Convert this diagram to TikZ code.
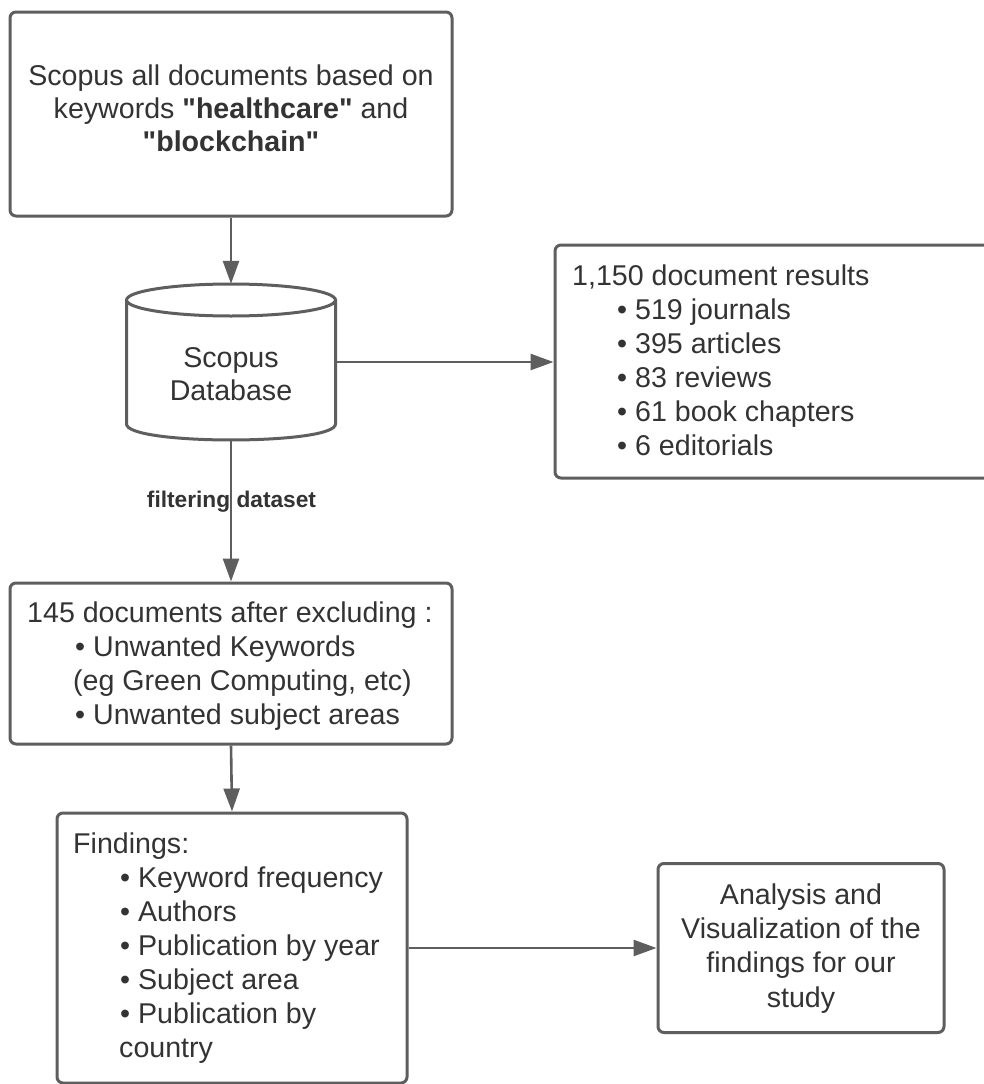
\documentclass[tikz,border=0pt]{standalone}
\usepackage{fontspec}
\setmainfont{Liberation Sans}
\usetikzlibrary{arrows.meta}
\definecolor{linec}{HTML}{5E5E5E}
\definecolor{textc}{HTML}{333333}
\begin{document}
\begin{tikzpicture}[x=1pt,y=-1pt,
  boxs/.style={draw=linec, line width=3pt, rounded corners=6pt, inner sep=0pt, fill=white},
  conn/.style={draw=linec, line width=2.6pt, -{Triangle[length=23pt,width=16pt]}},
  plainline/.style={draw=linec, line width=3pt},
  txt/.style={text=textc, inner sep=0pt, font=\fontsize{28.6pt}{34pt}\selectfont},
  lbl/.style={text=textc, inner sep=0pt, font=\bfseries\fontsize{22.7pt}{27pt}\selectfont}]
\useasboundingbox[fill=white] (0,0) rectangle (983,1084);

% boxes
\node[boxs, minimum width=442pt, minimum height=204pt] (b1) at (231,114) {};
\node[boxs, minimum width=436pt, minimum height=233pt] (b2) at (773,361.5) {};
\node[boxs, minimum width=442pt, minimum height=161pt] (b3) at (231,663.5) {};
\node[boxs, minimum width=350pt, minimum height=270pt] (b4) at (232,948) {};
\node[boxs, minimum width=286pt, minimum height=169pt] (b5) at (801,948) {};

% database cylinder
\node[inner sep=0pt, minimum width=209pt, minimum height=156pt] (db) at (231,362) {};
\fill[white] (126.5,300) -- (126.5,424) .. controls (126.5,445.3) and (335.5,445.3) .. (335.5,424) -- (335.5,300) -- cycle;
\draw[plainline] (126.5,300) -- (126.5,424) .. controls (126.5,445.3) and (335.5,445.3) .. (335.5,424) -- (335.5,300);
\draw[plainline, fill=white] (231,300) ellipse [x radius=104.5pt, y radius=16pt];

% texts (anchored at the baseline of their last line)
\node[txt, align=center, anchor=base, font=\fontsize{28.6pt}{33pt}\selectfont] (t1) at (231,151)
  {Scopus all documents based on\\keywords \textbf{\textquotedbl healthcare\textquotedbl} and\\\textbf{\textquotedbl blockchain\textquotedbl}};
\node[txt, align=center, anchor=base, font=\fontsize{28.6pt}{33.3pt}\selectfont] (tdb) at (231,400.3)
  {Scopus\\Database};
\node[txt, align=left, anchor=base west] (t2) at (572,455)
  {1,150 document results\\
   \hspace*{45pt}• 519 journals\\
   \hspace*{45pt}• 395 articles\\
   \hspace*{45pt}• 83 reviews\\
   \hspace*{45pt}• 61 book chapters\\
   \hspace*{45pt}• 6 editorials};
\node[txt, align=left, anchor=base west] (t3) at (27,724)
  {145 documents after excluding :\\
   \hspace*{48pt}• Unwanted Keywords\\
   \hspace*{46pt}(eg Green Computing, etc)\\
   \hspace*{48pt}• Unwanted subject areas};
\node[txt, align=left, anchor=base west] (t4) at (73,1057)
  {Findings:\\
   \hspace*{47pt}• Keyword frequency\\
   \hspace*{47pt}• Authors\\
   \hspace*{47pt}• Publication by year\\
   \hspace*{47pt}• Subject area\\
   \hspace*{47pt}• Publication by\\
   \hspace*{46pt}country};
\node[txt, align=center, anchor=base, font=\fontsize{28.6pt}{34.3pt}\selectfont] (t5) at (801,1007)
  {Analysis and\\Visualization of the\\findings for our\\study};

% connectors
\draw[conn] (b1.south) -- (db.north);
\draw[conn] (db.east) -- (db.east -| b2.west);
\draw[conn] (db.south) -- (b3.north);
\draw[conn] (b3.south) -- (b4.north);
\draw[conn] (b4.east) -- (b4.east -| b5.west);

\node[lbl, anchor=base] (flt) at (231.5,507) {filtering dataset};
\end{tikzpicture}
\end{document}
